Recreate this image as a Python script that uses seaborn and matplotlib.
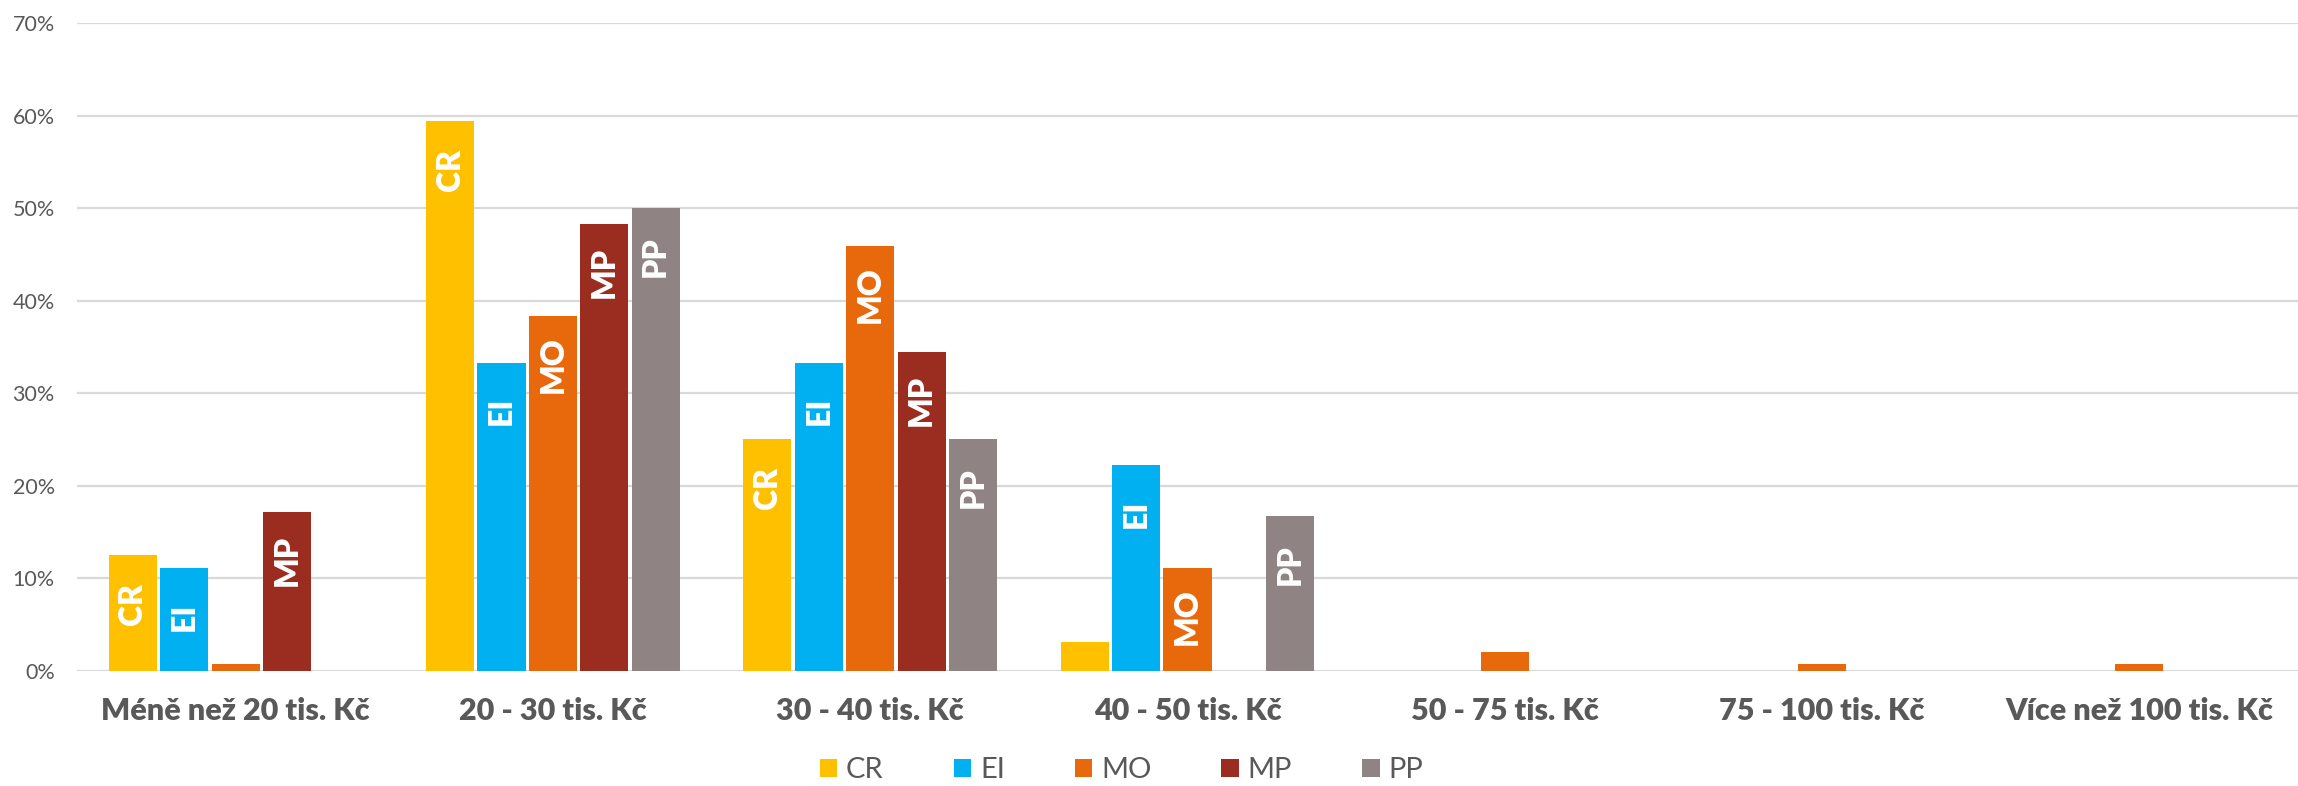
import pandas as pd
import matplotlib.pyplot as plt
import seaborn as sns
from matplotlib.ticker import PercentFormatter

categories = ["Méně než 20 tis. Kč", "20 - 30 tis. Kč", "30 - 40 tis. Kč", "40 - 50 tis. Kč",
              "50 - 75 tis. Kč", "75 - 100 tis. Kč", "Více než 100 tis. Kč"]
series = ["CR", "EI", "MO", "MP", "PP"]

cr = [12.5, 59.4, 25.0, 3.1, 0, 0, 0]
ei = [11.1, 33.3, 33.3, 22.2, 0, 0, 0]
mo = [0.7, 38.3, 45.9, 11.1, 2.0, 0.7, 0.7]
mp = [17.2, 48.3, 34.5, 0, 0, 0, 0]
pp = [0, 50.0, 25.0, 16.7, 0, 0, 0]

colors = ["#FFC000", "#00B0F0", "#E8690C", "#9A2C20", "#8F8383"]
text_gray = "#595959"

rows = []
for name, vals in zip(series, [cr, ei, mo, mp, pp]):
    for cat, v in zip(categories, vals):
        rows.append({"kategorie": cat, "skupina": name, "podil": v})
df = pd.DataFrame(rows)

sns.set_style("white")
plt.rcParams["font.family"] = ["Lato", "DejaVu Sans"]

fig = plt.figure(figsize=(22.98, 7.86), dpi=100)
ax = fig.add_axes([0.0335, 0.1467, 0.9665, 0.8238])

sns.barplot(data=df, x="kategorie", y="podil", hue="skupina", order=categories,
            hue_order=series, palette=colors, saturation=1, width=0.81, gap=0.064,
            errorbar=None, linewidth=0, ax=ax, zorder=3)

# series names written inside the taller bars
for name, cont in zip(series, ax.containers):
    for bar in cont:
        h = bar.get_height()
        if h > 5:
            ax.annotate(name, (bar.get_x() + bar.get_width() / 2, h),
                        xytext=(0, -35), textcoords="offset points",
                        rotation=90, ha="center", va="center",
                        color="white", fontweight="heavy", fontsize=23, zorder=4)

ax.set_ylim(0, 70)
ax.set_xlim(-0.5, 6.5)
ax.set_yticks(range(0, 71, 10))
ax.yaxis.set_major_formatter(PercentFormatter(100, decimals=0))
ax.grid(axis="y", color="#D9D9D9", linewidth=1.6, zorder=0)
ax.set_axisbelow(True)
sns.despine(ax=ax, left=True, bottom=True)
ax.tick_params(axis="both", length=0)
ax.tick_params(axis="y", labelsize=15.5, labelcolor=text_gray, pad=16)
ax.tick_params(axis="x", labelsize=22, labelcolor=text_gray, pad=19)
for lbl in ax.get_xticklabels():
    lbl.set_fontweight("heavy")
ax.set_xlabel("")
ax.set_ylabel("")

handles, labels = ax.get_legend_handles_labels()
ax.legend(handles, labels, loc="center", bbox_to_anchor=(0.488, 0.02),
          bbox_transform=fig.transFigure, ncol=5, frameon=False,
          handlelength=0.6, handleheight=0.6, handletextpad=0.3,
          columnspacing=2.4, borderpad=0, fontsize=21, labelcolor=text_gray)

fig.savefig("out.png", dpi=100)
